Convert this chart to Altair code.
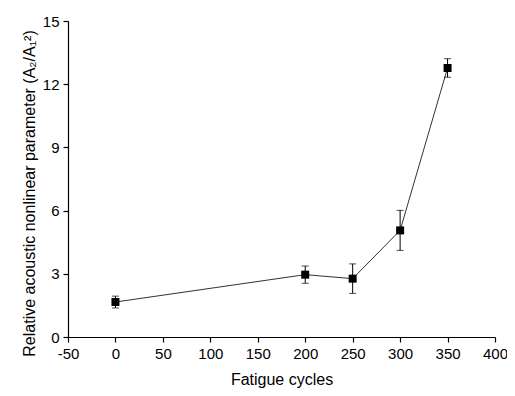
import altair as alt
import pandas as pd

cycles = [0, 200, 250, 300, 350]
values = [1.66, 2.96, 2.77, 5.06, 12.77]
errors = [0.28, 0.41, 0.70, 0.95, 0.44]

df = pd.DataFrame({"x": cycles, "y": values, "e": errors})
df["lo"] = df["y"] - df["e"]
df["hi"] = df["y"] + df["e"]

FONT = "Liberation Sans"

x_vals = list(range(-50, 401, 25))
y_vals = [i * 1.5 for i in range(0, 11)]

xscale = alt.Scale(domain=[-50, 400], nice=False, zero=False)
yscale = alt.Scale(domain=[0, 15], nice=False)

xaxis = alt.Axis(
    title="Fatigue cycles", values=x_vals,
    labelExpr="datum.value % 50 === 0 ? '' + datum.value : ''",
    tickSize={"condition": {"test": "datum.value % 50 === 0", "value": 5}, "value": 3},
    grid=False, domainColor="black", tickColor="black", labelColor="black",
    labelFont=FONT, labelFontSize=15, titleFont=FONT, titleFontSize=16,
    titleFontWeight="normal", titleColor="black", titlePadding=10,
    labelPadding=4, domainWidth=1.2, tickWidth=1.2, labelFlush=False,
    labelOverlap=False,
)
yaxis = alt.Axis(
    title="Relative acoustic nonlinear parameter (A₂/A₁²)", values=y_vals,
    labelExpr="datum.value % 3 === 0 ? '' + datum.value : ''",
    tickSize={"condition": {"test": "datum.value % 3 === 0", "value": 5}, "value": 3},
    grid=False, domainColor="black", tickColor="black", labelColor="black",
    labelFont=FONT, labelFontSize=15, titleFont=FONT, titleFontSize=16,
    titleFontWeight="normal", titleColor="black", titlePadding=5,
    titleY=172,
    labelPadding=4, domainWidth=1.2, tickWidth=1.2, labelFlush=False,
    labelOverlap=False,
)

base = alt.Chart(df)

line = base.mark_line(color="#333333", strokeWidth=1).encode(
    x=alt.X("x:Q", scale=xscale, axis=xaxis),
    y=alt.Y("y:Q", scale=yscale, axis=yaxis),
)
err = base.mark_rule(color="black", strokeWidth=1).encode(
    x="x:Q", y="lo:Q", y2="hi:Q"
)
cap_lo = base.mark_tick(color="black", thickness=1, size=7, orient="horizontal").encode(
    x="x:Q", y="lo:Q"
)
cap_hi = base.mark_tick(color="black", thickness=1, size=7, orient="horizontal").encode(
    x="x:Q", y="hi:Q"
)
pts = base.mark_square(color="black", size=64, opacity=1).encode(
    x="x:Q", y="y:Q"
)

chart = alt.layer(line, err, cap_lo, cap_hi, pts).properties(
    width=427, height=316,
    padding={"left": 60, "top": 13, "right": 12, "bottom": 51},
    autosize=alt.AutoSizeParams(type="none"),
    background="white",
).configure_view(stroke=None)

chart.save("out.html", embed_options={"renderer": "svg", "actions": False})
